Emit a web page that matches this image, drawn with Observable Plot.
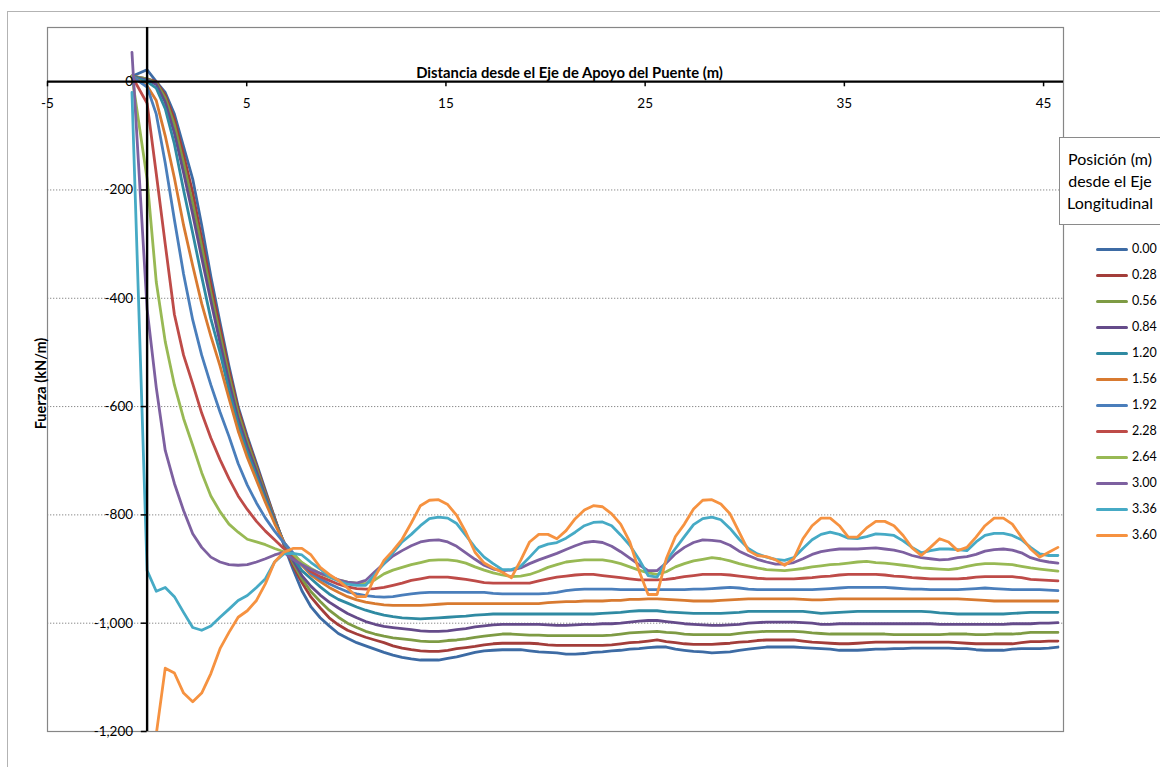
<!DOCTYPE html>
<html>
<head>
<meta charset="utf-8">
<script src="https://cdn.jsdelivr.net/npm/d3@7"></script>
<script src="https://cdn.jsdelivr.net/npm/@observablehq/plot@0.6"></script>
<style>
html,body{margin:0;padding:0;background:#fff;width:1160px;height:767px;overflow:hidden;font-family:Lato,"Open Sans",sans-serif;}
#wrap{position:relative;width:1160px;height:767px;overflow:hidden;}
#outer{position:absolute;left:7px;top:11px;width:1300px;height:900px;border-left:1.5px solid #b3b3b3;border-top:1.5px solid #b3b3b3;}
#chart{position:absolute;left:0;top:0;}
#ltitle{position:absolute;left:1059px;top:137px;width:112px;height:88px;border:1px solid #8a8a8a;background:#fff;color:#000;box-sizing:border-box;}
.tl{position:absolute;left:0;width:100px;text-align:center;font-size:16px;line-height:22px;white-space:nowrap;}
.li{position:absolute;left:1096px;height:16px;}
.sw{position:absolute;left:0;top:6.5px;width:32px;height:3px;border-radius:1.5px;}
.lt{position:absolute;left:36px;top:0;font-size:12.5px;line-height:16px;color:#000;}
</style>
</head>
<body>
<div id="wrap">
  <div id="outer"></div>
  <div id="chart"></div>
  <div id="ltitle"></div>
  <div id="legend"></div>
</div>
<script>
// distance along bridge (m)
const xs = [
 -0.76, 0, 0.46, 0.91, 1.37, 1.83, 2.29, 2.74, 3.2, 3.66,
 4.11, 4.57, 5.03, 5.49, 5.94, 6.4, 6.86, 7.32, 7.77, 8.23,
 8.69, 9.14, 9.6, 10.06, 10.52, 10.97, 11.43, 11.89, 12.34, 12.8,
 13.26, 13.72, 14.17, 14.63, 15.09, 15.54, 16, 16.46, 16.92, 17.37,
 17.83, 18.29, 18.75, 19.2, 19.66, 20.12, 20.57, 21.03, 21.49, 21.95,
 22.4, 22.86, 23.32, 23.77, 24.23, 24.69, 25.15, 25.6, 26.06, 26.52,
 26.97, 27.43, 27.89, 28.35, 28.8, 29.26, 29.72, 30.18, 30.63, 31.09,
 31.55, 32, 32.46, 32.92, 33.38, 33.83, 34.29, 34.75, 35.2, 35.66,
 36.12, 36.58, 37.03, 37.49, 37.95, 38.4, 38.86, 39.32, 39.78, 40.23,
 40.69, 41.15, 41.61, 42.06, 42.52, 42.98, 43.43, 43.89, 44.35, 44.81,
 45.26, 45.72];

const s000 = [
 10, 22, 0, -20, -60, -120, -180, -265, -360, -445,
 -525, -600, -655, -705, -755, -805, -855, -900, -940, -970,
 -990, -1005, -1019, -1028, -1036, -1042, -1048, -1054, -1059, -1063,
 -1066, -1068, -1068, -1068, -1065, -1062, -1058, -1054, -1051, -1050,
 -1049, -1049, -1049, -1051, -1053, -1054, -1055, -1057, -1057, -1056,
 -1054, -1053, -1051, -1050, -1048, -1047, -1045, -1044, -1044, -1048,
 -1050, -1052, -1053, -1055, -1054, -1053, -1050, -1048, -1046, -1044,
 -1044, -1044, -1044, -1045, -1046, -1047, -1048, -1050, -1050, -1050,
 -1049, -1048, -1048, -1047, -1047, -1046, -1046, -1046, -1046, -1046,
 -1047, -1047, -1049, -1050, -1050, -1050, -1048, -1047, -1047, -1047,
 -1046, -1044];
const s028 = [
 10, 5, 0, -25, -70, -135, -205, -290, -375, -455,
 -533, -605, -660, -709, -758, -806, -853, -893, -925, -952,
 -972, -990, -1003, -1013, -1020, -1026, -1031, -1036, -1042, -1046,
 -1049, -1051, -1052, -1052, -1050, -1047, -1045, -1043, -1040, -1038,
 -1037, -1037, -1037, -1037, -1038, -1040, -1041, -1041, -1041, -1041,
 -1041, -1041, -1040, -1038, -1036, -1035, -1033, -1031, -1034, -1036,
 -1038, -1039, -1039, -1039, -1038, -1037, -1035, -1034, -1032, -1031,
 -1031, -1031, -1031, -1033, -1035, -1036, -1037, -1038, -1038, -1037,
 -1036, -1035, -1035, -1035, -1035, -1035, -1035, -1035, -1035, -1035,
 -1036, -1037, -1038, -1038, -1038, -1038, -1038, -1036, -1034, -1034,
 -1033, -1033];
const s056 = [
 10, 5, -2, -30, -80, -150, -225, -305, -390, -468,
 -543, -612, -666, -714, -762, -808, -851, -888, -918, -942,
 -960, -976, -989, -1000, -1008, -1015, -1020, -1024, -1027, -1029,
 -1031, -1033, -1034, -1034, -1032, -1031, -1029, -1026, -1024, -1022,
 -1020, -1020, -1021, -1022, -1022, -1023, -1023, -1023, -1023, -1023,
 -1023, -1023, -1022, -1020, -1018, -1017, -1016, -1015, -1017, -1018,
 -1020, -1021, -1021, -1021, -1021, -1021, -1019, -1017, -1016, -1015,
 -1015, -1015, -1015, -1016, -1018, -1019, -1020, -1020, -1020, -1020,
 -1020, -1020, -1020, -1021, -1021, -1021, -1021, -1021, -1021, -1020,
 -1020, -1020, -1021, -1021, -1020, -1020, -1020, -1019, -1017, -1017,
 -1017, -1017];
const s084 = [
 10, 3, -5, -38, -95, -168, -245, -325, -405, -482,
 -555, -622, -674, -720, -766, -810, -850, -884, -912, -932,
 -948, -961, -972, -982, -990, -997, -1002, -1006, -1008, -1010,
 -1012, -1014, -1015, -1015, -1014, -1012, -1010, -1007, -1005, -1003,
 -1002, -1002, -1002, -1002, -1002, -1003, -1004, -1004, -1003, -1002,
 -1002, -1001, -1001, -1000, -998, -996, -995, -995, -997, -999,
 -1001, -1002, -1003, -1004, -1004, -1003, -1002, -1000, -999, -998,
 -998, -998, -998, -999, -1000, -1002, -1002, -1001, -1001, -1001,
 -1001, -1001, -1001, -1001, -1001, -1001, -1001, -1001, -1002, -1002,
 -1002, -1002, -1002, -1002, -1002, -1002, -1001, -1001, -1001, -1000,
 -1000, -999];
const s120 = [
 10, 0, -12, -50, -115, -200, -280, -360, -438, -500,
 -570, -633, -684, -728, -771, -813, -850, -879, -903, -918,
 -933, -946, -956, -963, -970, -976, -981, -985, -988, -990,
 -991, -992, -991, -990, -989, -988, -987, -985, -984, -983,
 -983, -983, -983, -983, -983, -983, -983, -983, -983, -983,
 -983, -982, -981, -980, -978, -977, -977, -977, -979, -980,
 -981, -982, -982, -982, -982, -981, -980, -978, -978, -978,
 -978, -978, -978, -978, -980, -982, -981, -980, -979, -978,
 -978, -978, -978, -978, -978, -978, -978, -979, -981, -982,
 -983, -983, -983, -983, -983, -983, -982, -981, -980, -980,
 -980, -980];
const s156 = [
 10, -8, -35, -100, -178, -265, -340, -410, -470, -525,
 -585, -645, -694, -736, -777, -816, -850, -873, -893, -911,
 -923, -934, -943, -951, -957, -961, -964, -966, -967, -967,
 -967, -967, -966, -965, -964, -964, -964, -964, -964, -964,
 -964, -964, -964, -964, -964, -962, -961, -960, -960, -959,
 -959, -959, -958, -958, -956, -956, -955, -955, -956, -957,
 -958, -959, -959, -959, -958, -957, -956, -955, -955, -955,
 -955, -955, -955, -956, -957, -957, -956, -955, -955, -955,
 -955, -955, -955, -955, -955, -955, -955, -955, -955, -955,
 -955, -956, -957, -958, -959, -959, -959, -959, -959, -959,
 -959, -959];
const s192 = [
 10, -10, -60, -150, -255, -355, -440, -505, -560, -610,
 -655, -705, -745, -778, -806, -830, -851, -870, -891, -908,
 -918, -927, -935, -942, -946, -949, -951, -952, -951, -948,
 -946, -944, -943, -943, -943, -943, -943, -943, -943, -945,
 -946, -946, -946, -946, -946, -945, -943, -940, -938, -937,
 -937, -937, -937, -938, -938, -938, -938, -938, -938, -938,
 -938, -937, -937, -936, -935, -934, -935, -937, -938, -938,
 -938, -938, -938, -938, -938, -937, -936, -935, -934, -934,
 -934, -934, -934, -935, -936, -937, -937, -938, -938, -938,
 -938, -937, -936, -935, -936, -937, -938, -938, -938, -938,
 -939, -940];
const s228 = [
 10, -40, -170, -300, -430, -505, -558, -612, -658, -698,
 -733, -765, -790, -812, -830, -846, -862, -875, -889, -905,
 -914, -921, -928, -933, -936, -937, -936, -934, -930, -926,
 -921, -918, -915, -915, -915, -917, -919, -922, -925, -926,
 -926, -926, -926, -926, -922, -918, -915, -913, -911, -910,
 -910, -912, -914, -916, -918, -920, -920, -920, -919, -917,
 -914, -912, -910, -910, -910, -911, -913, -915, -917, -918,
 -918, -918, -918, -917, -916, -914, -913, -911, -910, -910,
 -910, -910, -911, -913, -914, -916, -917, -918, -918, -918,
 -918, -917, -915, -914, -914, -914, -914, -916, -919, -920,
 -921, -922];
const s264 = [
 10, -180, -370, -480, -560, -622, -672, -722, -765, -794,
 -817, -832, -845, -850, -855, -862, -868, -872, -888, -899,
 -908, -915, -920, -924, -926, -927, -920, -909, -902, -897,
 -892, -888, -884, -883, -883, -885, -889, -896, -902, -907,
 -911, -914, -913, -910, -904, -897, -892, -887, -885, -883,
 -883, -883, -886, -890, -896, -902, -907, -910, -905, -896,
 -890, -885, -882, -879, -881, -885, -890, -894, -898, -901,
 -902, -903, -901, -899, -896, -894, -892, -891, -889, -887,
 -886, -888, -889, -891, -893, -895, -898, -899, -900, -901,
 -899, -895, -892, -890, -890, -891, -892, -895, -898, -900,
 -902, -904];
const s300 = [
 54, -420, -565, -681, -742, -792, -835, -860, -878, -887,
 -892, -893, -892, -887, -881, -874, -869, -882, -892, -901,
 -908, -913, -920, -924, -926, -921, -905, -890, -876, -866,
 -857, -850, -847, -846, -850, -858, -870, -882, -893, -900,
 -903, -902, -898, -890, -883, -877, -871, -864, -857, -851,
 -849, -851, -858, -868, -880, -892, -903, -903, -889, -872,
 -860, -851, -846, -847, -849, -856, -867, -875, -882, -887,
 -891, -891, -888, -881, -873, -868, -865, -863, -863, -863,
 -862, -861, -863, -865, -869, -875, -879, -881, -883, -882,
 -879, -877, -873, -867, -864, -863, -865, -870, -879, -884,
 -887, -889];
const s336 = [
 -20, -903, -941, -934, -951, -980, -1008, -1013, -1005, -989,
 -974, -958, -949, -934, -918, -887, -872, -871, -874, -888,
 -900, -914, -922, -928, -930, -930, -910, -890, -870, -850,
 -836, -820, -807, -804, -806, -816, -838, -860, -878, -890,
 -901, -901, -895, -878, -860, -854, -851, -843, -832, -820,
 -814, -813, -820, -837, -856, -882, -912, -915, -885, -862,
 -840, -818, -807, -804, -809, -825, -845, -862, -872, -878,
 -882, -884, -879, -862, -846, -836, -832, -836, -843, -844,
 -840, -835, -836, -838, -848, -860, -870, -866, -863, -863,
 -864, -866, -850, -838, -834, -834, -838, -846, -860, -872,
 -875, -875];
const s360 = [
 null, null, -1205, -1083, -1092, -1129, -1145, -1129, -1093, -1047,
 -1017, -989, -977, -958, -927, -887, -869, -862, -862, -874,
 -897, -910, -921, -935, -951, -951, -915, -884, -866, -845,
 -815, -783, -773, -772, -781, -801, -832, -869, -889, -898,
 -906, -916, -884, -850, -836, -836, -844, -829, -807, -791,
 -783, -785, -798, -817, -850, -903, -947, -947, -881, -840,
 -817, -789, -773, -772, -780, -798, -832, -866, -875, -877,
 -883, -893, -881, -844, -820, -806, -806, -820, -841, -841,
 -824, -812, -812, -820, -838, -861, -875, -860, -844, -850,
 -866, -860, -841, -820, -806, -806, -817, -841, -863, -878,
 -869, -860];

const seriesNames = ["0.00","0.28","0.56","0.84","1.20","1.56","1.92","2.28","2.64","3.00","3.36","3.60"];
const seriesValues = [s000, s028, s056, s084, s120, s156, s192, s228, s264, s300, s336, s360];
const seriesColors = ["#3d6ba4","#a33d3a","#7e9b44","#654b8a","#2f8aa2","#d87a30",
                      "#4a7ebb","#be4b48","#98b954","#7d60a0","#46aac5","#f69240"];

const xTicks = [-5, 5, 15, 25, 35, 45];
const xTickLabels = ["-5", "5", "15", "25", "35", "45"];
const yTicks = [-1200, -1000, -800, -600, -400, -200, 0];
const yTickLabels = ["-1,200", "-1,000", "-800", "-600", "-400", "-200", "0"];
const gridValues = [-1000, -800, -600, -400, -200];

const xTitle = "Distancia desde el Eje de Apoyo del Puente (m)";
const yTitle = "Fuerza (kN/m)";
const legendTitle = ["Posición (m)", "desde el Eje", "Longitudinal"];

const data = [];
seriesNames.forEach((name, i) => {
  seriesValues[i].forEach((v, j) => data.push({x: xs[j], y: v, s: name}));
});

const chart = Plot.plot({
  width: 1160,
  height: 767,
  marginLeft: 47,
  marginRight: 97,
  marginTop: 27,
  marginBottom: 36,
  style: {fontFamily: "Lato, 'Open Sans', sans-serif", background: "transparent", color: "#000"},
  x: {domain: [-5, 46], axis: null},
  y: {domain: [-1200, 100], axis: null},
  color: {domain: seriesNames, range: seriesColors},
  marks: [
    Plot.ruleY(gridValues, {y: d => d, stroke: "#8a8a8a", strokeDasharray: "1.3,1.7", strokeWidth: 1, strokeOpacity: 1}),
    Plot.frame({stroke: "#868686", strokeWidth: 1.2}),
    Plot.line(data, {x: "x", y: "y", z: "s", stroke: "s", strokeWidth: 2.8, strokeLinejoin: "round", strokeLinecap: "round", clip: true}),
    Plot.ruleY([0], {stroke: "#000", strokeWidth: 2.4}),
    Plot.ruleX([0], {stroke: "#000", strokeWidth: 2.4}),
    Plot.ruleX(xTicks, {x: d => d, y1: 0, y2: -9.5, stroke: "#000", strokeWidth: 1.5}),
    Plot.ruleY(yTicks, {y: d => d, x1: 0, x2: -0.29, stroke: "#000", strokeWidth: 1.5}),
    Plot.text(xTicks, {x: d => d, y: 0, dy: 22, text: (d, i) => xTickLabels[i], fontSize: 13.5, fill: "#000"}),
    Plot.text(yTicks, {x: 0, y: d => d, dx: -14, textAnchor: "end", text: (d, i) => yTickLabels[i], fontSize: 13.5, fill: "#000"}),
    Plot.text([xTitle], {frameAnchor: "top", dx: 14, dy: 40, text: d => d, fontWeight: "bold", fontSize: 14.8, fill: "#000"}),
    Plot.text([yTitle], {frameAnchor: "left", textAnchor: "middle", dx: -6, dy: 4, rotate: -90, text: d => d, fontWeight: "bold", fontSize: 14.5, fill: "#000"})
  ]
});
document.getElementById("chart").appendChild(chart);

const lt = document.getElementById("ltitle");
legendTitle.forEach((line, i) => {
  const d = document.createElement("div");
  d.className = "tl";
  d.style.top = (10 + 22 * i) + "px";
  d.textContent = line;
  lt.appendChild(d);
});

const legend = document.getElementById("legend");
seriesNames.forEach((name, i) => {
  const item = document.createElement("div");
  item.className = "li";
  item.style.top = (241 + 26 * i) + "px";
  const sw = document.createElement("div");
  sw.className = "sw";
  sw.style.background = seriesColors[i];
  const t = document.createElement("div");
  t.className = "lt";
  t.textContent = name;
  item.appendChild(sw);
  item.appendChild(t);
  legend.appendChild(item);
});
</script>
</body>
</html>
